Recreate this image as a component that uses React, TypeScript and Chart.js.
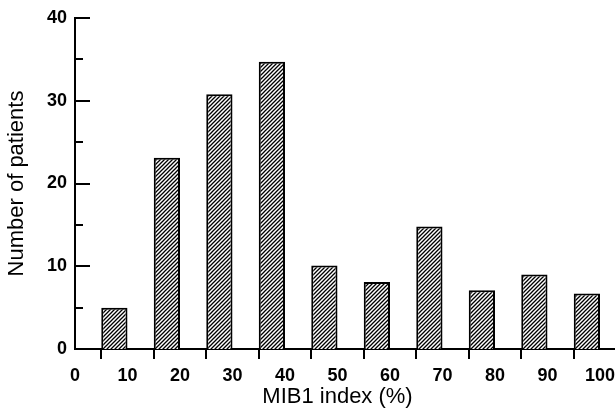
import React, { useEffect, useRef } from "react";
import { Chart, registerables } from "chart.js";

Chart.register(...registerables);

const binLabels = ["10", "20", "30", "40", "50", "60", "70", "80", "90", "100"];
const binCenters = [7.5, 17.5, 27.5, 37.5, 47.5, 57.5, 67.5, 77.5, 87.5, 97.5];
const patients = [5, 23.1, 30.8, 34.7, 10.1, 8.1, 14.8, 7.1, 9, 6.7];
const yMajorTicks = [10, 20, 30, 40];
const yMinorTicks = [5, 15, 25, 35];

function makeHatch(): CanvasPattern | string {
  const c = document.createElement("canvas");
  c.width = 4;
  c.height = 4;
  const g = c.getContext("2d");
  if (!g) return "#000";
  g.fillStyle = "#fff";
  g.fillRect(0, 0, 4, 4);
  g.strokeStyle = "#000";
  g.lineWidth = 1.3;
  g.beginPath();
  g.moveTo(-1, 5);
  g.lineTo(5, -1);
  g.moveTo(-3, 3);
  g.lineTo(3, -3);
  g.moveTo(1, 7);
  g.lineTo(7, 1);
  g.stroke();
  const p = g.createPattern(c, "repeat");
  return p || "#000";
}

const axisPlugin = {
  id: "axisTicks",
  afterDraw(chart: any) {
    const ctx = chart.ctx;
    const y = chart.scales.y;
    const area = chart.chartArea;
    ctx.save();
    ctx.strokeStyle = "#000";
    ctx.lineWidth = 2;
    ctx.beginPath();
    for (const v of yMajorTicks) {
      const py = Math.round(y.getPixelForValue(v));
      ctx.moveTo(area.left, py);
      ctx.lineTo(area.left + 15, py);
    }
    for (const v of yMinorTicks) {
      const py = Math.round(y.getPixelForValue(v));
      ctx.moveTo(area.left, py);
      ctx.lineTo(area.left + 8, py);
    }
    const by = Math.round(y.getPixelForValue(0));
    ctx.moveTo(area.right, by);
    ctx.lineTo(chart.width - 1, by);
    ctx.stroke();
    ctx.restore();
  },
};

export default function App() {
  const ref = useRef<HTMLCanvasElement>(null);
  useEffect(() => {
    if (!ref.current) return;
    const hatch = makeHatch();
    const tickFont = { family: "'Liberation Sans', Arial, sans-serif", size: 18, weight: "bold" as const };
    const titleFont = { family: "'Liberation Sans', Arial, sans-serif", size: 22 };
    const chart = new Chart(ref.current, {
      type: "bar",
      data: {
        labels: binLabels,
        datasets: [
          {
            data: binCenters.map((x, i) => ({ x, y: patients[i] })),
            backgroundColor: hatch as any,
            borderColor: "#000",
            borderWidth: 2,
            barPercentage: 0.5,
            categoryPercentage: 1,
          },
        ],
      },
      options: {
        animation: false,
        responsive: false,
        maintainAspectRatio: false,
        layout: { padding: { left: 0, right: 16, top: 18, bottom: 0 } },
        plugins: { legend: { display: false }, tooltip: { enabled: false } },
        scales: {
          x: {
            type: "linear",
            min: 0,
            max: 100,
            offset: false,
            afterFit: (s: any) => {
              s.height = 61;
              s.paddingLeft = 0;
              s.paddingRight = 0;
            },
            ticks: { stepSize: 10, color: "#000", font: tickFont, padding: 6, maxRotation: 0 },
            grid: { display: true, drawOnChartArea: false, drawTicks: true, tickLength: 10, color: "#000", lineWidth: 2 },
            border: { display: true, color: "#000", width: 2 },
            title: { display: true, text: "MIB1 index (%)", color: "#000", font: titleFont, padding: { top: 0, bottom: 0 } },
          },
          y: {
            min: 0,
            max: 40,
            afterFit: (s: any) => {
              s.width = 75;
              s.paddingTop = 0;
              s.paddingBottom = 0;
            },
            ticks: { stepSize: 10, color: "#000", font: tickFont, padding: 8 },
            grid: { display: false, drawTicks: false },
            border: { display: true, color: "#000", width: 2 },
            title: { display: true, text: "Number of patients", color: "#000", font: titleFont, padding: { top: 4, bottom: 0 } },
          },
        },
      },
      plugins: [axisPlugin],
    } as any);
    return () => chart.destroy();
  }, []);
  return (
    <div style={{ position: "fixed", left: 0, top: 0, width: 616, height: 410, background: "#fff" }}>
      <canvas ref={ref} width={616} height={410} style={{ width: 616, height: 410 }} />
    </div>
  );
}
